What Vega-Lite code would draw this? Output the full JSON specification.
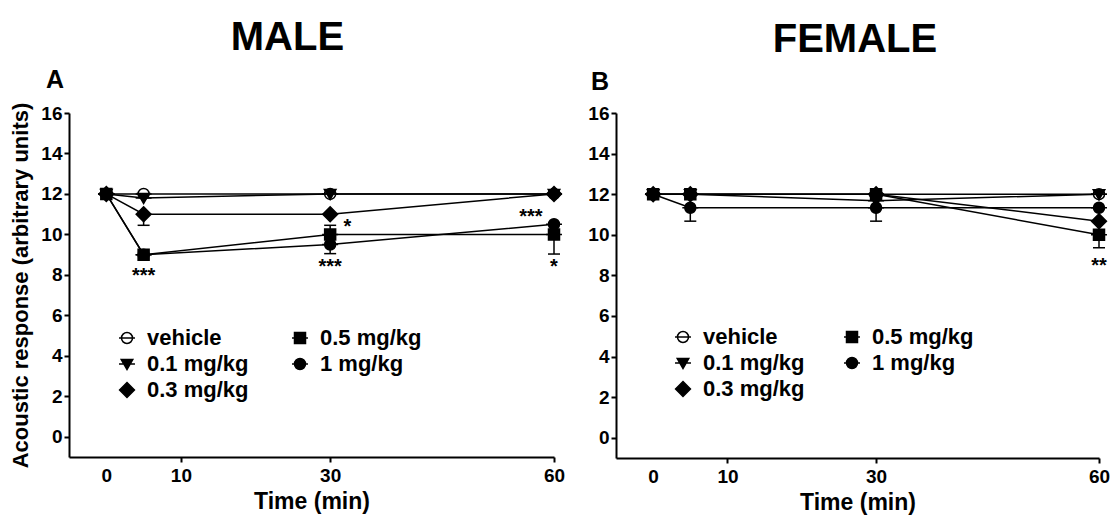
{
  "$schema": "https://vega.github.io/schema/vega-lite/v6.json",
  "background": "white",
  "padding": {"left": 9, "top": 18, "right": 4, "bottom": 4},
  "config": {
    "font": "Liberation Sans",
    "view": {"stroke": null},
    "axis": {"grid": false, "domainColor": "black", "domainWidth": 2, "tickColor": "black", "tickWidth": 2, "tickSize": 5,
      "labelFont": "Liberation Sans", "labelFontSize": 19, "labelFontWeight": "bold", "labelColor": "black",
      "titleFont": "Liberation Sans", "titleFontSize": 23, "titleFontWeight": "bold", "titleColor": "black", "labelOverlap": false},
    "legend": {"title": null, "orient": "none", "direction": "vertical", "columns": 2, "rowPadding": 4, "padding": 0,
      "labelFont": "Liberation Sans", "labelFontSize": 22, "labelFontWeight": "bold", "labelColor": "black", "labelOffset": 9,
      "symbolSize": 121, "symbolStrokeWidth": 1.5, "symbolStrokeColor": "black"},
    "title": {"font": "Liberation Sans", "fontWeight": "bold", "color": "black"},
    "concat": {"spacing": 22}
  },
  "datasets": {
    "points": [
      {"panel": "MALE", "dose": "vehicle", "time": 0, "value": 12},
      {"panel": "MALE", "dose": "vehicle", "time": 5, "value": 12},
      {"panel": "MALE", "dose": "vehicle", "time": 30, "value": 12},
      {"panel": "MALE", "dose": "vehicle", "time": 60, "value": 12},
      {"panel": "MALE", "dose": "0.1 mg/kg", "time": 0, "value": 12},
      {"panel": "MALE", "dose": "0.1 mg/kg", "time": 5, "value": 11.8},
      {"panel": "MALE", "dose": "0.1 mg/kg", "time": 30, "value": 12},
      {"panel": "MALE", "dose": "0.1 mg/kg", "time": 60, "value": 12},
      {"panel": "MALE", "dose": "0.3 mg/kg", "time": 0, "value": 12},
      {"panel": "MALE", "dose": "0.3 mg/kg", "time": 5, "value": 11},
      {"panel": "MALE", "dose": "0.3 mg/kg", "time": 30, "value": 11},
      {"panel": "MALE", "dose": "0.3 mg/kg", "time": 60, "value": 12},
      {"panel": "MALE", "dose": "1 mg/kg", "time": 0, "value": 12},
      {"panel": "MALE", "dose": "1 mg/kg", "time": 5, "value": 9},
      {"panel": "MALE", "dose": "1 mg/kg", "time": 30, "value": 9.5},
      {"panel": "MALE", "dose": "1 mg/kg", "time": 60, "value": 10.5},
      {"panel": "MALE", "dose": "0.5 mg/kg", "time": 0, "value": 12},
      {"panel": "MALE", "dose": "0.5 mg/kg", "time": 5, "value": 9},
      {"panel": "MALE", "dose": "0.5 mg/kg", "time": 30, "value": 10},
      {"panel": "MALE", "dose": "0.5 mg/kg", "time": 60, "value": 10},
      {"panel": "FEMALE", "dose": "vehicle", "time": 0, "value": 12},
      {"panel": "FEMALE", "dose": "vehicle", "time": 5, "value": 12},
      {"panel": "FEMALE", "dose": "vehicle", "time": 30, "value": 12},
      {"panel": "FEMALE", "dose": "vehicle", "time": 60, "value": 12},
      {"panel": "FEMALE", "dose": "0.1 mg/kg", "time": 0, "value": 12},
      {"panel": "FEMALE", "dose": "0.1 mg/kg", "time": 5, "value": 12},
      {"panel": "FEMALE", "dose": "0.1 mg/kg", "time": 30, "value": 11.67},
      {"panel": "FEMALE", "dose": "0.1 mg/kg", "time": 60, "value": 12},
      {"panel": "FEMALE", "dose": "0.3 mg/kg", "time": 0, "value": 12},
      {"panel": "FEMALE", "dose": "0.3 mg/kg", "time": 5, "value": 12},
      {"panel": "FEMALE", "dose": "0.3 mg/kg", "time": 30, "value": 12},
      {"panel": "FEMALE", "dose": "0.3 mg/kg", "time": 60, "value": 10.67},
      {"panel": "FEMALE", "dose": "1 mg/kg", "time": 0, "value": 12},
      {"panel": "FEMALE", "dose": "1 mg/kg", "time": 5, "value": 11.33},
      {"panel": "FEMALE", "dose": "1 mg/kg", "time": 30, "value": 11.33},
      {"panel": "FEMALE", "dose": "1 mg/kg", "time": 60, "value": 11.33},
      {"panel": "FEMALE", "dose": "0.5 mg/kg", "time": 0, "value": 12},
      {"panel": "FEMALE", "dose": "0.5 mg/kg", "time": 5, "value": 12},
      {"panel": "FEMALE", "dose": "0.5 mg/kg", "time": 30, "value": 12},
      {"panel": "FEMALE", "dose": "0.5 mg/kg", "time": 60, "value": 10}
    ],
    "errs": [
      {"panel": "MALE", "dose": "0.3 mg/kg", "time": 5, "value": 11, "err": 10.45},
      {"panel": "MALE", "dose": "0.5 mg/kg", "time": 30, "value": 10, "err": 10.45},
      {"panel": "MALE", "dose": "1 mg/kg", "time": 30, "value": 9.5, "err": 9.05},
      {"panel": "MALE", "dose": "0.5 mg/kg", "time": 60, "value": 10, "err": 9.03},
      {"panel": "FEMALE", "dose": "1 mg/kg", "time": 5, "value": 11.33, "err": 10.67},
      {"panel": "FEMALE", "dose": "1 mg/kg", "time": 30, "value": 11.33, "err": 10.67},
      {"panel": "FEMALE", "dose": "0.5 mg/kg", "time": 60, "value": 10, "err": 9.36}
    ],
    "stars": [
      {"panel": "MALE", "time": 5, "value": 8.05, "label": "***"},
      {"panel": "MALE", "time": 30, "value": 8.5, "label": "***"},
      {"panel": "MALE", "time": 32.3, "value": 10.48, "label": "*"},
      {"panel": "MALE", "time": 56.9, "value": 10.98, "label": "***"},
      {"panel": "MALE", "time": 60, "value": 8.5, "label": "*"},
      {"panel": "FEMALE", "time": 60, "value": 8.58, "label": "**"}
    ]
  },
  "resolve": {"scale": {"shape": "independent", "fill": "independent", "stroke": "independent"}},
  "hconcat": [
    {
      "title": {"text": "MALE", "fontSize": 40, "frame": "bounds", "anchor": "middle", "offset": 10},
      "vconcat": [
        {
          "title": {"text": "A", "fontSize": 25, "anchor": "start", "frame": "group", "dx": -23, "offset": 9},
          "width": 485,
          "height": 344,
          "encoding": {
            "x": {"field": "time", "type": "quantitative", "scale": {"domain": [-5, 60], "nice": false, "zero": false},
              "axis": {"values": [0, 10, 30, 60], "title": "Time (min)", "labelFlush": false, "labelPadding": 4, "titlePadding": 5,
                "tickOpacity": {"condition": {"test": "datum.value === 0", "value": 0}, "value": 1}}}
          },
          "layer": [
            {
              "data": {"name": "points"},
              "transform": [{"filter": "datum.panel === 'MALE'"}],
              "mark": {"type": "line", "color": "black", "strokeWidth": 1.5},
              "encoding": {
                "y": {"field": "value", "type": "quantitative", "scale": {"domain": [-1, 16], "nice": false, "zero": false},
                  "axis": {"values": [0, 2, 4, 6, 8, 10, 12, 14, 16], "title": "Acoustic response (arbitrary units)", "titleFontSize": 22, "titlePadding": 8, "labelPadding": 2}},
                "detail": {"field": "dose"}
              }
            },
            {
              "data": {"name": "errs"},
              "transform": [{"filter": "datum.panel === 'MALE'"}],
              "mark": {"type": "rule", "color": "black", "strokeWidth": 1.5},
              "encoding": {
                "y": {"field": "value", "type": "quantitative", "scale": {"domain": [-1, 16], "nice": false, "zero": false},
                  "axis": {"values": [0, 2, 4, 6, 8, 10, 12, 14, 16], "title": "Acoustic response (arbitrary units)", "titleFontSize": 22, "titlePadding": 8, "labelPadding": 2}},
                "y2": {"field": "err"}
              }
            },
            {
              "data": {"name": "errs"},
              "transform": [{"filter": "datum.panel === 'MALE'"}],
              "mark": {"type": "point", "shape": "M-1,0H1", "size": 144, "filled": false, "stroke": "black", "strokeWidth": 1.5, "opacity": 1},
              "encoding": {
                "y": {"field": "err", "type": "quantitative", "scale": {"domain": [-1, 16], "nice": false, "zero": false},
                  "axis": {"values": [0, 2, 4, 6, 8, 10, 12, 14, 16], "title": "Acoustic response (arbitrary units)", "titleFontSize": 22, "titlePadding": 8, "labelPadding": 2}}
              }
            },
            {
              "data": {"name": "points"},
              "transform": [{"filter": "datum.panel === 'MALE'"}],
              "mark": {"type": "point", "filled": true, "opacity": 1, "strokeWidth": 1.5, "size": 121},
              "encoding": {
                "y": {"field": "value", "type": "quantitative", "scale": {"domain": [-1, 16], "nice": false, "zero": false},
                  "axis": {"values": [0, 2, 4, 6, 8, 10, 12, 14, 16], "title": "Acoustic response (arbitrary units)", "titleFontSize": 22, "titlePadding": 8, "labelPadding": 2}},
                "shape": {"field": "dose", "type": "nominal",
                  "scale": {"domain": ["vehicle", "0.1 mg/kg", "0.3 mg/kg", "0.5 mg/kg", "1 mg/kg"],
                    "range": ["M-1,0A1,1 0 1,1 1,0A1,1 0 1,1 -1,0ZM-1.45,0H1.45", "M-1.05,-0.8L1.05,-0.8L0,1ZM-1.45,0H1.45", "M0,-1.35L1.35,0L0,1.35L-1.35,0ZM-1.45,0H1.45", "M-1,-1H1V1H-1ZM-1.45,0H1.45", "M-1,0A1,1 0 1,1 1,0A1,1 0 1,1 -1,0ZM-1.45,0H1.45"]},
                  "legend": {"legendX": 47, "legendY": 214, "columnPadding": 40}},
                "fill": {"field": "dose", "type": "nominal",
                  "scale": {"domain": ["vehicle", "0.1 mg/kg", "0.3 mg/kg", "0.5 mg/kg", "1 mg/kg"], "range": ["white", "black", "black", "black", "black"]},
                  "legend": {"legendX": 47, "legendY": 214, "columnPadding": 40}},
                "stroke": {"field": "dose", "type": "nominal",
                  "scale": {"domain": ["vehicle", "0.1 mg/kg", "0.3 mg/kg", "0.5 mg/kg", "1 mg/kg"], "range": ["black", "black", "black", "black", "black"]},
                  "legend": {"legendX": 47, "legendY": 214, "columnPadding": 40}}
              }
            },
            {
              "data": {"name": "stars"},
              "transform": [{"filter": "datum.panel === 'MALE'"}],
              "mark": {"type": "text", "fontSize": 20, "fontWeight": "bold", "baseline": "alphabetic", "dy": 8, "color": "black"},
              "encoding": {
                "y": {"field": "value", "type": "quantitative", "scale": {"domain": [-1, 16], "nice": false, "zero": false},
                  "axis": {"values": [0, 2, 4, 6, 8, 10, 12, 14, 16], "title": "Acoustic response (arbitrary units)", "titleFontSize": 22, "titlePadding": 8, "labelPadding": 2}},
                "text": {"field": "label"}
              }
            }
          ]
        }
      ]
    },
    {
      "title": {"text": "FEMALE", "fontSize": 40, "frame": "bounds", "anchor": "middle", "offset": 10, "dx": 6},
      "vconcat": [
        {
          "title": {"text": "B", "fontSize": 25, "anchor": "start", "frame": "group", "dx": -25, "offset": 9},
          "width": 483,
          "height": 345,
          "encoding": {
            "x": {"field": "time", "type": "quantitative", "scale": {"domain": [-5, 60], "nice": false, "zero": false},
              "axis": {"values": [0, 10, 30, 60], "title": "Time (min)", "labelFlush": false, "labelPadding": 4, "titlePadding": 5,
                "tickOpacity": {"condition": {"test": "datum.value === 0", "value": 0}, "value": 1}}}
          },
          "layer": [
            {
              "data": {"name": "points"},
              "transform": [{"filter": "datum.panel === 'FEMALE'"}],
              "mark": {"type": "line", "color": "black", "strokeWidth": 1.5},
              "encoding": {
                "y": {"field": "value", "type": "quantitative", "scale": {"domain": [-1, 16], "nice": false, "zero": false},
                  "axis": {"values": [0, 2, 4, 6, 8, 10, 12, 14, 16], "title": null, "labelPadding": 2}},
                "detail": {"field": "dose"}
              }
            },
            {
              "data": {"name": "errs"},
              "transform": [{"filter": "datum.panel === 'FEMALE'"}],
              "mark": {"type": "rule", "color": "black", "strokeWidth": 1.5},
              "encoding": {
                "y": {"field": "value", "type": "quantitative", "scale": {"domain": [-1, 16], "nice": false, "zero": false},
                  "axis": {"values": [0, 2, 4, 6, 8, 10, 12, 14, 16], "title": null, "labelPadding": 2}},
                "y2": {"field": "err"}
              }
            },
            {
              "data": {"name": "errs"},
              "transform": [{"filter": "datum.panel === 'FEMALE'"}],
              "mark": {"type": "point", "shape": "M-1,0H1", "size": 144, "filled": false, "stroke": "black", "strokeWidth": 1.5, "opacity": 1},
              "encoding": {
                "y": {"field": "err", "type": "quantitative", "scale": {"domain": [-1, 16], "nice": false, "zero": false},
                  "axis": {"values": [0, 2, 4, 6, 8, 10, 12, 14, 16], "title": null, "labelPadding": 2}}
              }
            },
            {
              "data": {"name": "points"},
              "transform": [{"filter": "datum.panel === 'FEMALE'"}],
              "mark": {"type": "point", "filled": true, "opacity": 1, "strokeWidth": 1.5, "size": 121},
              "encoding": {
                "y": {"field": "value", "type": "quantitative", "scale": {"domain": [-1, 16], "nice": false, "zero": false},
                  "axis": {"values": [0, 2, 4, 6, 8, 10, 12, 14, 16], "title": null, "labelPadding": 2}},
                "shape": {"field": "dose", "type": "nominal",
                  "scale": {"domain": ["vehicle", "0.1 mg/kg", "0.3 mg/kg", "0.5 mg/kg", "1 mg/kg"],
                    "range": ["M-1,0A1,1 0 1,1 1,0A1,1 0 1,1 -1,0ZM-1.45,0H1.45", "M-1.05,-0.8L1.05,-0.8L0,1ZM-1.45,0H1.45", "M0,-1.35L1.35,0L0,1.35L-1.35,0ZM-1.45,0H1.45", "M-1,-1H1V1H-1ZM-1.45,0H1.45", "M-1,0A1,1 0 1,1 1,0A1,1 0 1,1 -1,0ZM-1.45,0H1.45"]},
                  "legend": {"legendX": 56, "legendY": 213, "columnPadding": 36}},
                "fill": {"field": "dose", "type": "nominal",
                  "scale": {"domain": ["vehicle", "0.1 mg/kg", "0.3 mg/kg", "0.5 mg/kg", "1 mg/kg"], "range": ["white", "black", "black", "black", "black"]},
                  "legend": {"legendX": 56, "legendY": 213, "columnPadding": 36}},
                "stroke": {"field": "dose", "type": "nominal",
                  "scale": {"domain": ["vehicle", "0.1 mg/kg", "0.3 mg/kg", "0.5 mg/kg", "1 mg/kg"], "range": ["black", "black", "black", "black", "black"]},
                  "legend": {"legendX": 56, "legendY": 213, "columnPadding": 36}}
              }
            },
            {
              "data": {"name": "stars"},
              "transform": [{"filter": "datum.panel === 'FEMALE'"}],
              "mark": {"type": "text", "fontSize": 20, "fontWeight": "bold", "baseline": "alphabetic", "dy": 8, "color": "black"},
              "encoding": {
                "y": {"field": "value", "type": "quantitative", "scale": {"domain": [-1, 16], "nice": false, "zero": false},
                  "axis": {"values": [0, 2, 4, 6, 8, 10, 12, 14, 16], "title": null, "labelPadding": 2}},
                "text": {"field": "label"}
              }
            }
          ]
        }
      ]
    }
  ]
}
